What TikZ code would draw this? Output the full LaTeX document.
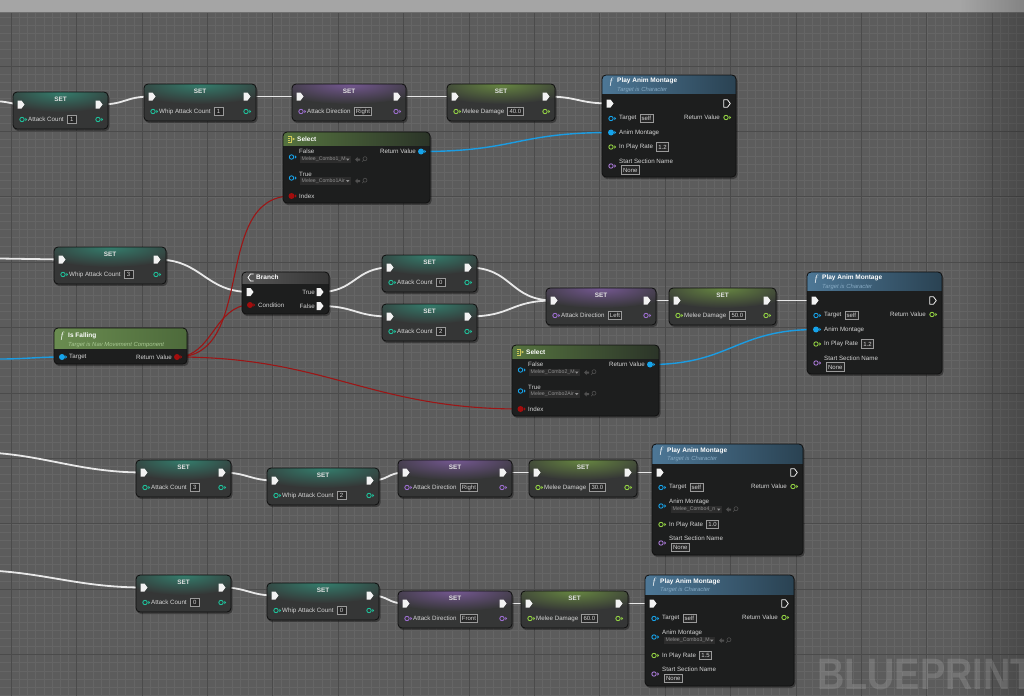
\documentclass[tikz,border=0pt]{standalone}
\usepackage{fontspec}
\setmainfont{Liberation Sans}
\newfontfamily\serifit{Liberation Serif}
\usetikzlibrary{fadings}

\definecolor{bgc}{HTML}{5C5C5C}
\definecolor{gridmin}{HTML}{656565}
\definecolor{gridmaj}{HTML}{4B4B4B}
\definecolor{bandc}{HTML}{A5A5A5}
\definecolor{setbody}{HTML}{353636}
\definecolor{funbody}{HTML}{1D1E1E}
\definecolor{nborder}{HTML}{101010}
\definecolor{txtc}{HTML}{D4D4D4}
\definecolor{titlec}{HTML}{E2E2E2}
\definecolor{valborder}{HTML}{9A9A9A}
\definecolor{valfill}{HTML}{262626}
\definecolor{ddfill}{HTML}{2C2C2C}
\definecolor{ddtxt}{HTML}{8E8E8E}
\definecolor{iconc}{HTML}{505050}
\definecolor{execc}{HTML}{F2F2F2}
\definecolor{intc}{HTML}{1FC29C}
\definecolor{enumc}{HTML}{9D6FD0}
\definecolor{floatc}{HTML}{94D344}
\definecolor{objc}{HTML}{16A3EA}
\definecolor{boolc}{HTML}{A30D0D}
\definecolor{namec}{HTML}{A878D6}
\definecolor{wirew}{HTML}{E8E8E8}
\definecolor{wireb}{HTML}{1B9CE2}
\definecolor{wirer}{HTML}{9B1616}
\definecolor{glowteal}{HTML}{338F7A}
\definecolor{glowpurp}{HTML}{8460A8}
\definecolor{glowgreen}{HTML}{739A44}
\definecolor{pamL}{HTML}{4D7796}
\definecolor{pamR}{HTML}{2A4252}
\definecolor{pamsub}{HTML}{86A9C2}
\definecolor{selL}{HTML}{55733F}
\definecolor{selR}{HTML}{2B3428}
\definecolor{fallL}{HTML}{6A8C50}
\definecolor{fallR}{HTML}{4D6A3B}
\definecolor{fallsub}{HTML}{A8C892}
\definecolor{brL}{HTML}{575757}
\definecolor{brR}{HTML}{363636}
\definecolor{selicon}{HTML}{CFC85A}

\tikzfading[name=rightdark, left color=transparent!100, right color=transparent!0]

\pgfdeclarelayer{bg}
\pgfdeclarelayer{wires}
\pgfsetlayers{bg,wires,main}

\tikzset{
 lbl/.style={font=\fontsize{6.2}{7}\selectfont, text=txtc, inner sep=0pt, anchor=west},
 lblr/.style={lbl, anchor=east},
 settitle/.style={font=\bfseries\fontsize{6.4}{7}\selectfont, text=titlec, inner sep=0pt},
 ftitle/.style={font=\bfseries\fontsize{6.5}{7}\selectfont, text=white, inner sep=0pt, anchor=west},
 fsub/.style={font=\itshape\fontsize{5.9}{7}\selectfont, inner sep=0pt, anchor=west},
 ficon/.style={font=\serifit\itshape\fontsize{9}{9}\selectfont, text=white, inner sep=0pt},
 valbox/.style={draw=valborder, line width=0.6pt, fill=valfill, text=txtc, font=\fontsize{6}{7}\selectfont, inner xsep=1.8pt, inner ysep=1.2pt, minimum width=9pt, minimum height=8.5pt, anchor=west},
 ddtext/.style={font=\fontsize{5.2}{6}\selectfont, text=ddtxt, inner sep=0pt, anchor=west},
 shadowbox/.style={fill=black, opacity=0.35, rounded corners=4pt},
 nodeedge/.style={draw=nborder, line width=0.8pt, rounded corners=4pt},
 execwire/.style={draw=wirew, line width=1.8pt},
 bluewire/.style={draw=wireb, line width=1.4pt},
 redwire/.style={draw=wirer, line width=1.1pt},
 minorline/.style={draw=gridmin, line width=0.6pt},
 majorline/.style={draw=gridmaj, line width=0.9pt},
 watermark/.style={font=\bfseries\fontsize{44}{44}\selectfont, text=white, text opacity=0.14, inner sep=0pt, anchor=base west},
}

% exec pins
\newcommand{\execin}[3]{%
 \coordinate (#1) at (#2,#3);
 \fill[execc] (#2-3.5,#3-4) -- (#2+0.5,#3-4) -- (#2+3.5,#3) -- (#2+0.5,#3+4) -- (#2-3.5,#3+4) -- cycle;}
\newcommand{\exechollow}[3]{%
 \coordinate (#1) at (#2,#3);
 \draw[execc, line width=0.8pt, line join=round] (#2-3.2,#3-3.7) -- (#2+0.5,#3-3.7) -- (#2+3.3,#3) -- (#2+0.5,#3+3.7) -- (#2-3.2,#3+3.7) -- cycle;}
% data pins
\newcommand{\pinO}[4]{%
 \coordinate (#1) at (#2,#3);
 \draw[#4, line width=0.9pt] (#2,#3) circle [radius=2.2];
 \fill[#4] (#2+3.4,#3-1.7) -- (#2+5.2,#3) -- (#2+3.4,#3+1.7) -- cycle;}
\newcommand{\pinF}[4]{%
 \coordinate (#1) at (#2,#3);
 \fill[#4] (#2,#3) circle [radius=3];
 \fill[#4] (#2+3.4,#3-1.7) -- (#2+5.2,#3) -- (#2+3.4,#3+1.7) -- cycle;}
% dropdown
\newcommand{\ddbox}[5]{%
 \fill[ddfill] (#2,#4-3.6) rectangle (#3,#4+3.6);
 \node[ddtext] (#1) at (#2+1.5,#4) {#5};
 \fill[ddtxt] (#3-5,#4-1) -- (#3-1.5,#4-1) -- (#3-3.25,#4+1.2) -- cycle;
 \fill[iconc] (#3+4,#4) -- (#3+6.5,#4-2.5) -- (#3+6.5,#4-1) -- (#3+9,#4-1) -- (#3+9,#4+1) -- (#3+6.5,#4+1) -- (#3+6.5,#4+2.5) -- cycle;
 \draw[iconc, line width=0.6pt] (#3+14,#4-0.8) circle [radius=2] (#3+12.6,#4+0.6) -- (#3+11,#4+2.2);}

% SET node: name, x1, y1, x2, glow, pin colour, label, value
\newcommand{\SetNode}[8]{%
 \fill[shadowbox] (#2+1,#3+2) rectangle (#4+1.5,#3+39);
 \fill[setbody,rounded corners=4pt] (#2,#3) rectangle (#4,#3+37);
 \begin{scope}
 \clip[rounded corners=4pt] (#2,#3) rectangle (#4,#3+37);
 \shade[inner color=#5!80!setbody, outer color=setbody] ({(#2+#4)/2},#3) ellipse [x radius={(#4-#2)*0.7}, y radius=20];
 \end{scope}
 \draw[nodeedge] (#2,#3) rectangle (#4,#3+37);
 \node[settitle] (#1t) at ({(#2+#4)/2},#3+7.5) {SET};
 \execin{#1in}{#2+8}{#3+12.5}
 \execin{#1out}{#4-9}{#3+12.5}
 \pinO{#1vi}{#2+9}{#3+27.5}{#6}
 \node[lbl] (#1l) at (#2+15,#3+27.5) {#7};
 \node[valbox] (#1v) at ([xshift=3pt]#1l.east) {#8};
 \pinO{#1vo}{#4-10}{#3+27.5}{#6}}

% Play Anim Montage with connected montage: name, x1, y1, x2, rate
\newcommand{\PamA}[5]{%
 \fill[shadowbox] (#2+1,#3+2) rectangle (#4+1.5,#3+104);
 \fill[funbody,rounded corners=4pt] (#2,#3) rectangle (#4,#3+102);
 \begin{scope}
 \clip[rounded corners=4pt] (#2,#3) rectangle (#4,#3+102);
 \shade[left color=pamL, right color=pamR] (#2,#3) rectangle (#4,#3+18);
 \end{scope}
 \draw[nodeedge] (#2,#3) rectangle (#4,#3+102);
 \node[ficon] (#1f) at (#2+9,#3+7) {f};
 \node[ftitle] (#1t) at (#2+15,#3+6) {Play Anim Montage};
 \node[fsub, text=pamsub] (#1s) at (#2+15,#3+14.5) {Target is Character};
 \execin{#1in}{#2+8}{#3+28.5}
 \exechollow{#1out}{#4-9}{#3+28.5}
 \pinO{#1tg}{#2+9}{#3+43.5}{objc}
 \node[lbl] (#1tgl) at (#2+17,#3+43.5) {Target};
 \node[valbox] (#1tgv) at ([xshift=3pt]#1tgl.east) {self};
 \node[lblr] (#1rl) at (#4-16,#3+42.5) {Return Value};
 \pinO{#1rv}{#4-10}{#3+42.5}{floatc}
 \pinF{#1am}{#2+9}{#3+57.5}{objc}
 \node[lbl] (#1aml) at (#2+17,#3+57.5) {Anim Montage};
 \pinO{#1pr}{#2+9}{#3+72}{floatc}
 \node[lbl] (#1prl) at (#2+17,#3+72) {In Play Rate};
 \node[valbox] (#1prv) at ([xshift=3pt]#1prl.east) {#5};
 \node[lbl] (#1ssl) at (#2+17,#3+86) {Start Section Name};
 \pinO{#1ss}{#2+9}{#3+91}{namec}
 \node[valbox] (#1ssv) at (#2+19,#3+95) {None};}

% Play Anim Montage with dropdown: name, x1, y1, x2, rate, montage
\newcommand{\PamB}[6]{%
 \fill[shadowbox] (#2+1,#3+2) rectangle (#4+1.5,#3+113);
 \fill[funbody,rounded corners=4pt] (#2,#3) rectangle (#4,#3+111);
 \begin{scope}
 \clip[rounded corners=4pt] (#2,#3) rectangle (#4,#3+111);
 \shade[left color=pamL, right color=pamR] (#2,#3) rectangle (#4,#3+19);
 \end{scope}
 \draw[nodeedge] (#2,#3) rectangle (#4,#3+111);
 \node[ficon] (#1f) at (#2+9,#3+7.5) {f};
 \node[ftitle] (#1t) at (#2+15,#3+6.5) {Play Anim Montage};
 \node[fsub, text=pamsub] (#1s) at (#2+15,#3+15) {Target is Character};
 \execin{#1in}{#2+8}{#3+28.5}
 \exechollow{#1out}{#4-9}{#3+28.5}
 \pinO{#1tg}{#2+9}{#3+43.5}{objc}
 \node[lbl] (#1tgl) at (#2+17,#3+43.5) {Target};
 \node[valbox] (#1tgv) at ([xshift=3pt]#1tgl.east) {self};
 \node[lblr] (#1rl) at (#4-16,#3+42.5) {Return Value};
 \pinO{#1rv}{#4-10}{#3+42.5}{floatc}
 \node[lbl] (#1aml) at (#2+17,#3+57.5) {Anim Montage};
 \pinO{#1am}{#2+9}{#3+62}{objc}
 \ddbox{#1amd}{#2+19}{#2+70}{#3+65.5}{#6}
 \pinO{#1pr}{#2+9}{#3+80.5}{floatc}
 \node[lbl] (#1prl) at (#2+17,#3+80.5) {In Play Rate};
 \node[valbox] (#1prv) at ([xshift=3pt]#1prl.east) {#5};
 \node[lbl] (#1ssl) at (#2+17,#3+94.5) {Start Section Name};
 \pinO{#1ss}{#2+9}{#3+99}{namec}
 \node[valbox] (#1ssv) at (#2+19,#3+103.5) {None};}

% Select: name, x1, y1, x2, false, true
\newcommand{\SelNode}[6]{%
 \fill[shadowbox] (#2+1,#3+2) rectangle (#4+1.5,#3+73);
 \fill[funbody,rounded corners=4pt] (#2,#3) rectangle (#4,#3+71);
 \begin{scope}
 \clip[rounded corners=4pt] (#2,#3) rectangle (#4,#3+71);
 \shade[left color=selL, right color=selR] (#2,#3) rectangle (#4,#3+13.5);
 \end{scope}
 \draw[nodeedge] (#2,#3) rectangle (#4,#3+71);
 \draw[selicon, line width=0.8pt] (#2+5,#3+4) -- (#2+8.5,#3+4) -- (#2+8.5,#3+10) -- (#2+5,#3+10);
 \draw[selicon, line width=0.6pt] (#2+5,#3+6) -- (#2+7,#3+6) (#2+5,#3+8) -- (#2+7,#3+8);
 \fill[selicon] (#2+9.5,#3+5.5) -- (#2+12,#3+7) -- (#2+9.5,#3+8.5) -- cycle;
 \node[ftitle] (#1t) at (#2+14,#3+7) {Select};
 \node[lbl] (#1fl) at (#2+16,#3+19.5) {False};
 \pinO{#1fp}{#2+8.5}{#3+25}{objc}
 \ddbox{#1fd}{#2+17}{#2+68}{#3+27.5}{#5}
 \node[lbl] (#1tl) at (#2+16,#3+42) {True};
 \pinO{#1tp}{#2+8.5}{#3+46}{objc}
 \ddbox{#1td}{#2+17}{#2+68}{#3+49}{#6}
 \pinF{#1ix}{#2+8.5}{#3+64}{boolc}
 \node[lbl] (#1il) at (#2+16,#3+64) {Index};
 \node[lblr] (#1rl) at (#4-14,#3+19.5) {Return Value};
 \pinF{#1rv}{#4-9}{#3+19.5}{objc}}

\begin{document}
\begin{tikzpicture}[x=1pt,y=-1pt]
\useasboundingbox (0,0) rectangle (1024,696);
\clip (0,0) rectangle (1024,696);

% ---------- background grid ----------
\begin{pgfonlayer}{bg}
\fill[bgc] (0,0) rectangle (1024,696);
\foreach \i in {0,...,124} \draw[minorline] ({11.2+\i*8.175},12) -- ({11.2+\i*8.175},696);
\foreach \j in {2,...,85} \draw[minorline] (0,{0.6+\j*8.175}) -- (1024,{0.6+\j*8.175});
\foreach \i in {0,...,15} \draw[majorline] ({11.2+\i*65.4},12) -- ({11.2+\i*65.4},696);
\foreach \j in {1,...,10} \draw[majorline] (0,{0.6+\j*65.4}) -- (1024,{0.6+\j*65.4});
\fill[bandc] (0,0) rectangle (1024,12);
\draw[gridmaj!60!bandc, line width=0.8pt] (0,12) -- (1024,12);
\fill[black, opacity=0.2, path fading=rightdark] (960,0) rectangle (1024,696);
\node[watermark] (wm) at (817,689) {\scalebox{0.86}[1]{BLUEPRINT}};
\end{pgfonlayer}

% ---------- free wire ends ----------
\coordinate (L1) at (0,101.5);
\coordinate (L2) at (0,258.5);
\coordinate (L3) at (0,359);
\coordinate (L4) at (-30,452);
\coordinate (L5) at (-30,570);

% ---------- top row ----------
\SetNode{s1}{13}{92}{108}{glowteal}{intc}{Attack Count}{1}
\SetNode{s2}{144}{84}{256}{glowteal}{intc}{Whip Attack Count}{1}
\SetNode{s3}{292}{84}{406}{glowpurp}{enumc}{Attack Direction}{Right}
\SetNode{s4}{447}{84}{555}{glowgreen}{floatc}{Melee Damage}{40.0}
\SelNode{sa}{283}{132}{430}{Melee\_Combo1\_M}{Melee\_Combo1Air}
\PamA{pa}{602}{75}{736}{1.2}

% ---------- middle ----------
\SetNode{s7}{54}{247}{166}{glowteal}{intc}{Whip Attack Count}{3}
% Branch
\fill[shadowbox] (243,274) rectangle (330.5,316);
\fill[funbody, rounded corners=4pt] (242,272) rectangle (329,314);
\begin{scope}
\clip[rounded corners=4pt] (242,272) rectangle (329,314);
\shade[left color=brL, right color=brR] (242,272) rectangle (329,283.5);
\end{scope}
\draw[nodeedge] (242,272) rectangle (329,314);
\draw[white, line width=0.8pt] (253.5,274) -- (250.5,274) -- (248,277.5) -- (250.5,281) -- (253.5,281);
\node[ftitle] (brt) at (256,277.5) {Branch};
\execin{brin}{250}{292}
\node[lblr] (brtl) at (315,292) {True};
\execin{brtrue}{320}{292}
\pinF{brcond}{250}{305}{boolc}
\node[lbl] (brcl) at (258,305) {Condition};
\node[lblr] (brfl) at (315,306) {False};
\execin{brfalse}{320}{306}
% Is Falling
\fill[shadowbox] (55,330) rectangle (188.5,366);
\fill[funbody, rounded corners=4pt] (54,328) rectangle (187,364);
\begin{scope}
\clip[rounded corners=4pt] (54,328) rectangle (187,364);
\shade[left color=fallL, right color=fallR] (54,328) rectangle (187,348.5);
\end{scope}
\draw[nodeedge] (54,328) rectangle (187,364);
\node[ficon] (ff) at (62,336.5) {f};
\node[ftitle] (ft) at (68,336) {Is Falling};
\node[fsub, text=fallsub] (fs) at (68,344.5) {Target is Nav Movement Component};
\pinF{ftg}{62}{357}{objc}
\node[lbl] (ftgl) at (69,357) {Target};
\node[lblr] (frl) at (172,357) {Return Value};
\pinF{fret}{177}{357}{boolc}

\SetNode{s9}{382}{255}{477}{glowteal}{intc}{Attack Count}{0}
\SetNode{s10}{382}{304}{477}{glowteal}{intc}{Attack Count}{2}
\SetNode{s12}{546}{288}{656}{glowpurp}{enumc}{Attack Direction}{Left}
\SetNode{s13}{669}{288}{776}{glowgreen}{floatc}{Melee Damage}{50.0}
\SelNode{sb}{512}{345}{659}{Melee\_Combo2\_M}{Melee\_Combo2Air}
\PamA{pb}{807}{272}{942}{1.2}

% ---------- bottom rows ----------
\SetNode{s16}{136}{460}{231}{glowteal}{intc}{Attack Count}{3}
\SetNode{s17}{267}{468}{379}{glowteal}{intc}{Whip Attack Count}{2}
\SetNode{s18}{398}{460}{512}{glowpurp}{enumc}{Attack Direction}{Right}
\SetNode{s19}{529}{460}{637}{glowgreen}{floatc}{Melee Damage}{30.0}
\PamB{pc}{652}{444}{803}{1.0}{Melee\_Combo4\_n}

\SetNode{s21}{136}{575}{231}{glowteal}{intc}{Attack Count}{0}
\SetNode{s22}{267}{583}{379}{glowteal}{intc}{Whip Attack Count}{0}
\SetNode{s23}{398}{591}{512}{glowpurp}{enumc}{Attack Direction}{Front}
\SetNode{s24}{521}{591}{628}{glowgreen}{floatc}{Melee Damage}{60.0}
\PamB{pd}{645}{575}{794}{1.5}{Melee\_Combo3\_M}

% ---------- wires ----------
\begin{pgfonlayer}{wires}
\draw[execwire] (L1) .. controls +(6,0) and +(-6,0) .. (s1in);
\draw[execwire] (s1out) .. controls +(28,0) and +(-28,0) .. (s2in);
\draw[execwire] (s2out) -- (s3in);
\draw[execwire] (s3out) -- (s4in);
\draw[execwire] (s4out) .. controls +(32,0) and +(-32,0) .. (pain);
\draw[bluewire] (sarv) .. controls +(95,0) and +(-95,0) .. (paam);

\draw[execwire] (L2) -- (s7in);
\draw[execwire] (s7out) .. controls +(45,0) and +(-45,0) .. (brin);
\draw[execwire] (brtrue) .. controls +(35,0) and +(-35,0) .. (s9in);
\draw[execwire] (brfalse) .. controls +(35,0) and +(-35,0) .. (s10in);
\draw[execwire] (s9out) .. controls +(45,0) and +(-45,0) .. (s12in);
\draw[execwire] (s10out) .. controls +(45,0) and +(-45,0) .. (s12in);
\draw[execwire] (s12out) -- (s13in);
\draw[execwire] (s13out) -- (pbin);
\draw[bluewire] (sbrv) .. controls +(80,0) and +(-80,0) .. (pbam);
\draw[bluewire] (L3) .. controls +(25,0) and +(-25,0) .. (ftg);
\draw[redwire] (fret) .. controls +(35,0) and +(-35,0) .. (brcond);
\draw[redwire] (fret) .. controls +(80,0) and +(-80,0) .. (saix);
\draw[redwire] (fret) .. controls +(150,0) and +(-150,0) .. (sbix);

\draw[execwire] (L4) .. controls +(70,0) and +(-70,0) .. (s16in);
\draw[execwire] (s16out) .. controls +(25,0) and +(-25,0) .. (s17in);
\draw[execwire] (s17out) .. controls +(20,0) and +(-20,0) .. (s18in);
\draw[execwire] (s18out) -- (s19in);
\draw[execwire] (s19out) -- (pcin);

\draw[execwire] (L5) .. controls +(70,0) and +(-70,0) .. (s21in);
\draw[execwire] (s21out) .. controls +(25,0) and +(-25,0) .. (s22in);
\draw[execwire] (s22out) .. controls +(20,0) and +(-20,0) .. (s23in);
\draw[execwire] (s23out) -- (s24in);
\draw[execwire] (s24out) -- (pdin);
\end{pgfonlayer}
\end{tikzpicture}
\end{document}
